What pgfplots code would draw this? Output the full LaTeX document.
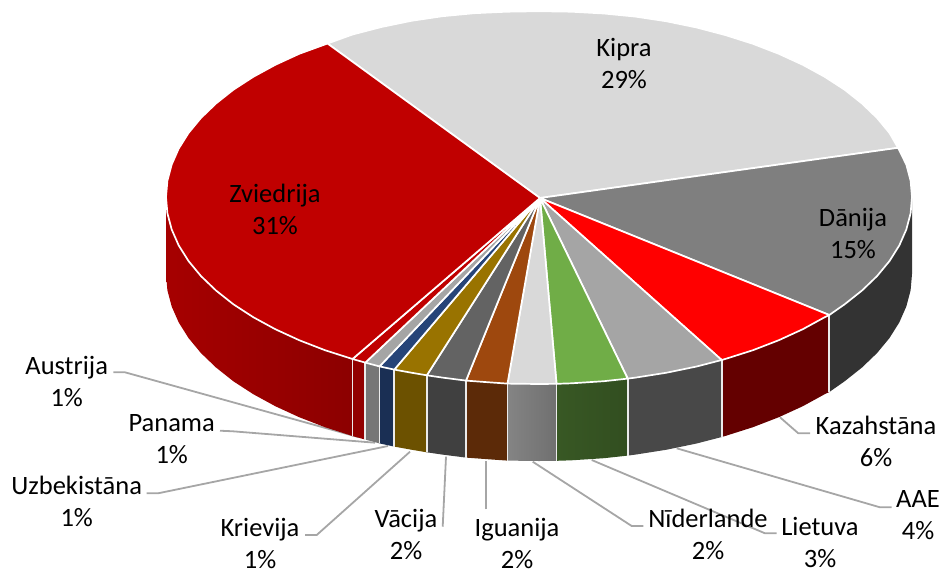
\documentclass[border=0pt]{standalone}
\usepackage{pgfplots}
\pgfplotsset{compat=1.18}
\usepackage{fontspec}
\setmainfont{Carlito}
\definecolor{cKip}{HTML}{D9D9D9}
\definecolor{cDan}{HTML}{7F7F7F}
\definecolor{cKaz}{HTML}{FF0000}
\definecolor{cAAE}{HTML}{A5A5A5}
\definecolor{cLie}{HTML}{70AD47}
\definecolor{cNid}{HTML}{D9D9D9}
\definecolor{cIgu}{HTML}{9E480E}
\definecolor{cVac}{HTML}{636363}
\definecolor{cKri}{HTML}{997300}
\definecolor{cUzb}{HTML}{264478}
\definecolor{cPan}{HTML}{A5A5A5}
\definecolor{cAus}{HTML}{C00000}
\definecolor{cZvi}{HTML}{C00000}
\definecolor{lead}{HTML}{A6A6A6}
\begin{document}
\begin{tikzpicture}
\useasboundingbox (0,0) rectangle (941pt,574pt);
\begin{axis}[at={(0,0)},anchor=south west,scale only axis,width=941pt,height=574pt,
  xmin=0,xmax=941,ymin=0,ymax=574,y dir=reverse,hide axis,clip=false,
  every axis plot/.append style={no markers,line join=round},
  top/.style={draw=white,line width=1.7pt},
  side/.style={draw=none,line width=0pt},
  sep/.style={draw=white!92!black,line width=1.7pt},
  ld/.style={draw=lead,line width=1.8pt,line join=round}]
% leader lines
\addplot[ld] coordinates {(113.3,372.3)(125,372.3)(358,437)};
\addplot[ld] coordinates {(220,430.7)(233,431.3)(375,442.7)};
\addplot[ld] coordinates {(146.7,493.3)(158,493.3)(388,446)};
\addplot[ld] coordinates {(305,535)(316.7,535)(410,451.7)};
\addplot[ld] coordinates {(442.7,526.7)(446,456.7)};
\addplot[ld] coordinates {(486,509.3)(486,460.7)};
\addplot[ld] coordinates {(643.3,526)(631.7,526)(532.7,461.7)};
\addplot[ld] coordinates {(776.7,533.3)(765,533.3)(591.7,460)};
\addplot[ld] coordinates {(891.7,507.3)(880,507.3)(676.7,448.3)};
\addplot[ld] coordinates {(810,433.3)(798.3,433.3)(780,417.3)};
% side walls
\addplot[side,fill={rgb,255:red,51;green,51;blue,51}] coordinates {(912,197)(910.6,213.3)(906.3,229.5)(899.3,245.4)(889.5,261)(877.1,276)(862,290.5)(844.6,304.3)(829.3,315)(829.3,392)(844.6,381.3)(862,367.5)(877.1,353)(889.5,338)(899.3,322.4)(906.3,306.5)(910.6,290.3)(912,274)(912,197)};
\addplot[side,fill={rgb,255:red,100;green,0;blue,0}] coordinates {(829.3,315)(824.7,317.2)(802.8,329.2)(778.8,340.2)(752.9,350.2)(725.5,358.9)(721.7,360)(721.7,437)(725.5,435.9)(752.9,427.2)(778.8,417.2)(802.8,406.2)(824.7,394.2)(829.3,392)(829.3,315)};
\addplot[side,fill={rgb,255:red,72;green,72;blue,72}] coordinates {(721.7,360)(696.6,366.5)(666.6,372.7)(635.5,377.6)(627.7,378.6)(627.7,455.6)(635.5,454.6)(666.6,449.7)(696.6,443.5)(721.7,437)(721.7,360)};
\addplot[side,left color={rgb,255:red,56;green,88;blue,36},right color={rgb,255:red,50;green,78;blue,32}] coordinates {(627.7,378.6)(603.8,381.2)(571.5,383.3)(556.5,383.8)(556.5,460.8)(571.5,460.3)(603.8,458.2)(627.7,455.6)(627.7,378.6)};
\addplot[side,left color={rgb,255:red,132;green,132;blue,132},right color={rgb,255:red,112;green,112;blue,112}] coordinates {(556.5,383.8)(539,384)(507.5,383.6)(507.5,460.6)(539,461)(556.5,460.8)(556.5,383.8)};
\addplot[side,fill={rgb,255:red,92;green,42;blue,8}] coordinates {(507.5,383.6)(490.3,382.4)(474.2,381.2)(466,380.6)(466,457.6)(474.2,458.2)(490.3,459.4)(507.5,460.6)(507.5,383.6)};
\addplot[side,fill={rgb,255:red,64;green,64;blue,64}] coordinates {(466,380.6)(442.5,377.6)(426.8,375.3)(426.8,452.3)(442.5,454.6)(466,457.6)(466,380.6)};
\addplot[side,fill={rgb,255:red,108;green,81;blue,0}] coordinates {(426.8,375.3)(411.4,372.7)(394.3,369.6)(394.3,446.6)(411.4,449.7)(426.8,452.3)(426.8,375.3)};
\addplot[side,fill={rgb,255:red,26;green,47;blue,84}] coordinates {(394.3,369.6)(379.5,366.4)(379.5,443.4)(394.3,446.6)(394.3,369.6)};
\addplot[side,fill={rgb,255:red,118;green,118;blue,118}] coordinates {(379.5,366.4)(365.3,362.6)(365.3,439.6)(379.5,443.4)(379.5,366.4)};
\addplot[side,fill={rgb,255:red,146;green,0;blue,0}] coordinates {(365.3,362.6)(352.5,359)(352.5,436)(365.3,439.6)(365.3,362.6)};
\addplot[side,left color={rgb,255:red,166;green,0;blue,0},right color={rgb,255:red,140;green,0;blue,0}] coordinates {(352.5,359)(325,350.2)(299.2,340.2)(275.3,329.2)(253.3,317.2)(233.4,304.3)(216,290.5)(200.9,276)(188.5,261)(178.7,245.4)(171.7,229.5)(167.4,213.3)(166,197)(166,274)(167.4,290.3)(171.7,306.5)(178.7,322.4)(188.5,338)(200.9,353)(216,367.5)(233.4,381.3)(253.3,394.2)(275.3,406.2)(299.2,417.2)(325,427.2)(352.5,436)(352.5,359)};
% wall separators
\addplot[sep] coordinates {(829.3,315)(829.3,392)};
\addplot[sep] coordinates {(721.7,360)(721.7,437)};
\addplot[sep] coordinates {(627.7,378.6)(627.7,455.6)};
\addplot[sep] coordinates {(556.5,383.8)(556.5,460.8)};
\addplot[sep] coordinates {(507.5,383.6)(507.5,460.6)};
\addplot[sep] coordinates {(466,380.6)(466,457.6)};
\addplot[sep] coordinates {(426.8,375.3)(426.8,452.3)};
\addplot[sep] coordinates {(394.3,369.6)(394.3,446.6)};
\addplot[sep] coordinates {(379.5,366.4)(379.5,443.4)};
\addplot[sep] coordinates {(365.3,362.6)(365.3,439.6)};
\addplot[sep] coordinates {(352.5,359)(352.5,436)};
% top faces
\addplot[top,fill=cKip] coordinates {(540,198)(327.5,43.5)(352.5,34.5)(381.4,27)(411.4,20.8)(442.5,16.2)(474.2,13.2)(506.5,11.7)(539,11.2)(571.5,11.7)(603.8,13.5)(635.5,16.6)(666.6,21.3)(696.6,27.5)(725.5,35.1)(752.9,43.8)(778.8,53.8)(802.8,64.8)(824.7,76.8)(844.6,89.7)(862,103.5)(877.1,118)(889.5,133)(898,147.8)(540,198)};
\addplot[top,fill=cDan] coordinates {(540,198)(898,147.8)(906.3,164.5)(910.6,180.7)(912,197)(910.6,213.3)(906.3,229.5)(899.3,245.4)(889.5,261)(877.1,276)(862,290.5)(844.6,304.3)(829.3,315)(540,198)};
\addplot[top,fill=cKaz] coordinates {(540,198)(829.3,315)(824.7,317.2)(802.8,329.2)(778.8,340.2)(752.9,350.2)(725.5,358.9)(721.7,360)(540,198)};
\addplot[top,fill=cAAE] coordinates {(540,198)(721.7,360)(696.6,366.5)(666.6,372.7)(635.5,377.6)(627.7,378.6)(540,198)};
\addplot[top,fill=cLie] coordinates {(540,198)(627.7,378.6)(603.8,381.2)(571.5,383.3)(556.5,383.8)(540,198)};
\addplot[top,fill=cNid] coordinates {(540,198)(556.5,383.8)(539,384)(507.5,383.6)(540,198)};
\addplot[top,fill=cIgu] coordinates {(540,198)(507.5,383.6)(490.3,382.4)(474.2,381.2)(466,380.6)(540,198)};
\addplot[top,fill=cVac] coordinates {(540,198)(466,380.6)(442.5,377.6)(426.8,375.3)(540,198)};
\addplot[top,fill=cKri] coordinates {(540,198)(426.8,375.3)(411.4,372.7)(394.3,369.6)(540,198)};
\addplot[top,fill=cUzb] coordinates {(540,198)(394.3,369.6)(379.5,366.4)(540,198)};
\addplot[top,fill=cPan] coordinates {(540,198)(379.5,366.4)(365.3,362.6)(540,198)};
\addplot[top,fill=cAus] coordinates {(540,198)(365.3,362.6)(352.5,359)(540,198)};
\addplot[top,fill=cZvi] coordinates {(540,198)(352.5,359)(325,350.2)(299.2,340.2)(275.3,329.2)(253.3,317.2)(233.4,304.3)(216,290.5)(200.9,276)(188.5,261)(178.7,245.4)(171.7,229.5)(167.4,213.3)(166,197)(167.4,180.7)(171.7,164.5)(178.7,148.6)(188.5,133)(200.9,118)(216,103.5)(233.4,89.7)(253.3,76.8)(275.3,64.8)(299.2,53.8)(327.5,43.5)(540,198)};
% labels
\tikzset{lab/.style={align=center,inner sep=0pt,font=\fontsize{26.5}{32}\selectfont,text=black}}
\node[lab] at (axis cs:624,63) {Kipra\\29\%};
\node[lab] at (axis cs:275,209) {Zviedrija\\31\%};
\node[lab] at (axis cs:853,233) {Dānija\\15\%};
\node[lab] at (axis cs:876,441) {Kazahstāna\\6\%};
\node[lab] at (axis cs:918,515) {AAE\\4\%};
\node[lab] at (axis cs:820,542) {Lietuva\\3\%};
\node[lab] at (axis cs:708,534) {Nīderlande\\2\%};
\node[lab] at (axis cs:517,543) {Iguanija\\2\%};
\node[lab] at (axis cs:406,534) {Vācija\\2\%};
\node[lab] at (axis cs:260,543) {Krievija\\1\%};
\node[lab] at (axis cs:76.7,501) {Uzbekistāna\\1\%};
\node[lab] at (axis cs:171.7,439) {Panama\\1\%};
\node[lab] at (axis cs:66.7,381) {Austrija\\1\%};
\end{axis}
\end{tikzpicture}
\end{document}
